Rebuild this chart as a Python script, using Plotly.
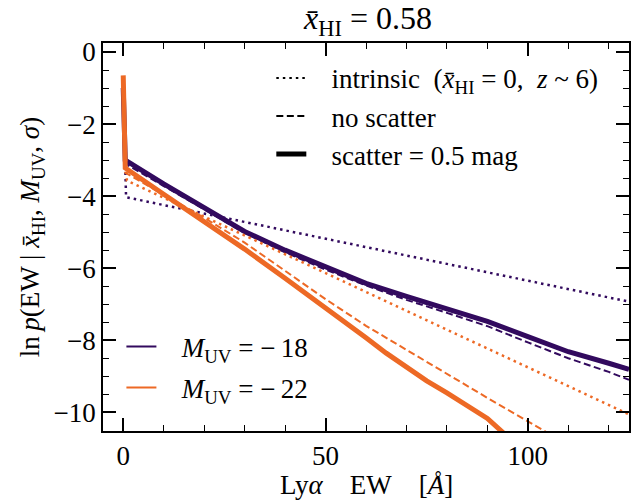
import plotly.graph_objects as go

# ---- data ----
ew_scatter_m18 = [0, 0.5, 10, 20, 30, 40, 50, 60, 70, 80, 90, 100, 110, 120, 125]
lnp_scatter_m18 = [-1.0, -3.0, -3.66, -4.33, -4.98, -5.5, -5.96, -6.42, -6.78, -7.12, -7.48, -7.9, -8.32, -8.64, -8.81]

ew_noscat_m18 = [0, 0.5, 10, 20, 30, 40, 50, 60, 70, 80, 90, 100, 110, 120, 125]
lnp_noscat_m18 = [-1.0, -3.1, -3.72, -4.38, -5.02, -5.56, -6.04, -6.48, -6.88, -7.24, -7.61, -8.06, -8.5, -8.88, -9.1]

ew_intr_m18 = [0, 0.7, 25, 50, 75, 100, 125]
lnp_intr_m18 = [-1.0, -4.03, -4.6, -5.18, -5.76, -6.34, -6.93]

ew_intr_m22 = [0, 0.9, 25, 50, 75, 100, 125]
lnp_intr_m22 = [-0.8, -3.57, -4.83, -6.14, -7.45, -8.75, -10.06]

ew_noscat_m22 = [0, 0.5, 10, 20, 30, 40, 50, 60, 70, 80, 90, 100, 105]
lnp_noscat_m22 = [-0.7, -3.35, -3.96, -4.6, -5.29, -6.07, -6.86, -7.6, -8.27, -8.93, -9.6, -10.25, -10.58]

ew_scatter_m22 = [0, 0.5, 10, 20, 30, 40, 50, 60, 65, 70, 75, 80, 85, 90, 95]
lnp_scatter_m22 = [-0.65, -3.22, -3.95, -4.7, -5.47, -6.28, -7.09, -7.93, -8.36, -8.76, -9.13, -9.46, -9.8, -10.17, -10.68]

x_ticks = [0, 50, 100]
y_ticks = [0, -2, -4, -6, -8, -10]

PURPLE = "#320a5e"
ORANGE = "#ed6925"
FONT = "Times New Roman, Liberation Serif, Tinos, serif"
FS = 27

DOT = "2.5px,4px"
DASH = "7px,3.5px"

fig = go.Figure()

series = [
    (ew_intr_m18, lnp_intr_m18, PURPLE, 2.5, DOT),
    (ew_noscat_m18, lnp_noscat_m18, PURPLE, 2, DASH),
    (ew_scatter_m18, lnp_scatter_m18, PURPLE, 5, "solid"),
    (ew_intr_m22, lnp_intr_m22, ORANGE, 2.5, DOT),
    (ew_noscat_m22, lnp_noscat_m22, ORANGE, 2, DASH),
    (ew_scatter_m22, lnp_scatter_m22, ORANGE, 5, "solid"),
]
for x, y, c, w, d in series:
    fig.add_trace(go.Scatter(x=x, y=y, mode="lines", showlegend=False,
                             line=dict(color=c, width=w, dash=d)))

sp = "\u00a0" * 3
eq = "\u2005=\u2005"
xbar = "<i>x\u0304</i><sub>HI</sub>"
# style legend (top right)
fig.add_trace(go.Scatter(x=[None], y=[None], mode="lines", legend="legend",
                         name=sp + "intrinsic\u2002(" + xbar + eq + "0,\u2002<i>z</i>\u2005~\u20056)",
                         line=dict(color="black", width=2, dash=DOT)))
fig.add_trace(go.Scatter(x=[None], y=[None], mode="lines", legend="legend",
                         name=sp + "no scatter", line=dict(color="black", width=2, dash=DASH)))
fig.add_trace(go.Scatter(x=[None], y=[None], mode="lines", legend="legend",
                         name=sp + "scatter" + eq + "0.5 mag", line=dict(color="black", width=5)))
# colour legend (bottom left)
fig.add_trace(go.Scatter(x=[None], y=[None], mode="lines", legend="legend2", legendgroup="a",
                         name=sp + "<i>M</i><sub>UV</sub>" + eq + "\u2212\u200918",
                         line=dict(color=PURPLE, width=2)))
fig.add_trace(go.Scatter(x=[None], y=[None], mode="lines", legend="legend2", legendgroup="b",
                         name=sp + "<i>M</i><sub>UV</sub>" + eq + "\u2212\u200922",
                         line=dict(color=ORANGE, width=2)))

axis_common = dict(showline=True, linecolor="black", linewidth=1.5, mirror="allticks",
                   ticks="inside", ticklen=13, tickwidth=1.5, tickcolor="black",
                   showgrid=False, zeroline=False,
                   tickfont=dict(family=FONT, size=FS, color="black"))

fig.update_layout(
    width=632, height=502,
    margin=dict(l=103, r=1, t=43, b=71),
    paper_bgcolor="white", plot_bgcolor="white",
    font=dict(family=FONT, size=FS, color="black"),
    title=dict(text=xbar + eq + "0.58", x=368 / 632, xanchor="center",
               y=1 - 18 / 502, yanchor="middle", font=dict(family=FONT, size=32)),
    xaxis=dict(range=[-5, 125], tickvals=x_ticks,
               minor=dict(ticks="inside", ticklen=6, tickwidth=1.2, dtick=10, tick0=0, tickcolor="black"),
               **axis_common),
    yaxis=dict(range=[-10.52, 0.25], tickvals=y_ticks,
               minor=dict(ticks="inside", ticklen=6, tickwidth=1.2, dtick=0.5, tick0=0, tickcolor="black"),
               title=dict(text="ln\u2009<i>p</i>(EW | " + xbar + ", <i>M</i><sub>UV</sub>, <i>σ</i>)",
                          standoff=6, font=dict(family=FONT, size=FS)),
               **axis_common),
    legend=dict(x=0.32, y=0.972, xanchor="left", yanchor="top", bgcolor="rgba(0,0,0,0)",
                font=dict(family=FONT, size=FS), tracegroupgap=0),
    legend2=dict(x=0.035, y=0.28, xanchor="left", yanchor="top", bgcolor="rgba(0,0,0,0)",
                 font=dict(family=FONT, size=FS), traceorder="grouped", tracegroupgap=3),
    annotations=[dict(text="Ly<i>α</i>\u2002\u2002EW\u2002\u2002[<i>Å</i>]", xref="paper", yref="paper",
                      x=0.5, y=-(485 - 431) / 388, xanchor="center", yanchor="middle",
                      showarrow=False, font=dict(family=FONT, size=FS))],
)

fig.write_html("out.html")
